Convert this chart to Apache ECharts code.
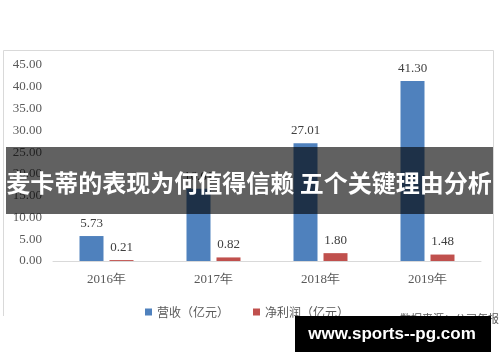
<!DOCTYPE html>
<html>
<head>
<meta charset="utf-8">
<script src="https://cdn.jsdelivr.net/npm/echarts@6/dist/echarts.min.js"></script>
<style>html,body{margin:0;padding:0;background:#fff}#c{width:500px;height:362px}</style>
</head>
<body>
<div id="c"></div>
<script>
const categories = ['2016年', '2017年', '2018年', '2019年'];
const revenue = [5.73, 16.61, 27.01, 41.30];
const profit = [0.21, 0.82, 1.80, 1.48];
const seriesNames = ['营收（亿元）', '净利润（亿元）'];
const titleText = '麦卡蒂的表现为何值得信赖 五个关键理由分析';
const sourceText = '数据来源：公司年报';
const watermarkText = 'www.sports--pg.com';

const chart = echarts.init(document.getElementById('c'), null, {renderer: 'canvas'});
const serif = '"Liberation Serif", "Times New Roman", serif';
const cjk = '"Noto Sans CJK SC", sans-serif';
chart.setOption({
  animation: false,
  backgroundColor: '#fff',
  grid: {left: 53, right: 19, top: 65, bottom: 101},
  legend: {
    data: seriesNames,
    left: 140, top: 301,
    itemWidth: 7, itemHeight: 7, itemGap: 24,
    icon: 'rect',
    textStyle: {fontFamily: cjk, fontSize: 12, color: '#595959'}
  },
  xAxis: {
    type: 'category', data: categories,
    axisLine: {lineStyle: {color: '#d9d9d9'}},
    axisTick: {show: false},
    axisLabel: {fontFamily: serif, fontSize: 13, color: '#595959', margin: 12}
  },
  yAxis: {
    type: 'value', min: 0, max: 45, interval: 5,
    splitLine: {show: false},
    axisLine: {show: false}, axisTick: {show: false},
    axisLabel: {fontFamily: serif, fontSize: 13, color: '#595959', margin: 11,
      formatter: v => v.toFixed(2)}
  },
  series: [
    {name: seriesNames[0], type: 'bar', data: revenue, barWidth: 24, barGap: '25%',
     itemStyle: {color: '#4f81bd'},
     label: {show: true, position: 'top', distance: 6, fontFamily: serif, fontSize: 13, color: '#404040',
       formatter: p => p.value.toFixed(2)}},
    {name: seriesNames[1], type: 'bar', data: profit, barWidth: 24,
     itemStyle: {color: '#c0504d'},
     label: {show: true, position: 'top', distance: 6, fontFamily: serif, fontSize: 13, color: '#404040',
       formatter: p => p.value.toFixed(2)}}
  ],
  graphic: [
    {type: 'polyline', z: 1, silent: true,
     shape: {points: [[3.5, 316], [3.5, 50.5], [493.5, 50.5], [493.5, 316]]},
     style: {stroke: '#d9d9d9', lineWidth: 1, fill: null}},
    {type: 'text', z: 5, left: 400, top: 313,
     style: {text: sourceText, font: '11px ' + cjk, fill: '#595959'}},
    {type: 'rect', z: 100, shape: {x: 6, y: 147, width: 487, height: 67},
     style: {fill: 'rgba(0,0,0,0.62)'}},
    {type: 'text', z: 101, x: 249, y: 183,
     style: {text: titleText, font: 'bold 24px ' + cjk, fill: '#fff', align: 'center', verticalAlign: 'middle'}},
    {type: 'rect', z: 100, shape: {x: 295, y: 316, width: 196, height: 36},
     style: {fill: '#000'}},
    {type: 'text', z: 101, x: 392, y: 334,
     style: {text: watermarkText, font: 'bold 17px "Liberation Sans", Arial, sans-serif', fill: '#fff', align: 'center', verticalAlign: 'middle'}}
  ]
});
</script>
</body>
</html>
